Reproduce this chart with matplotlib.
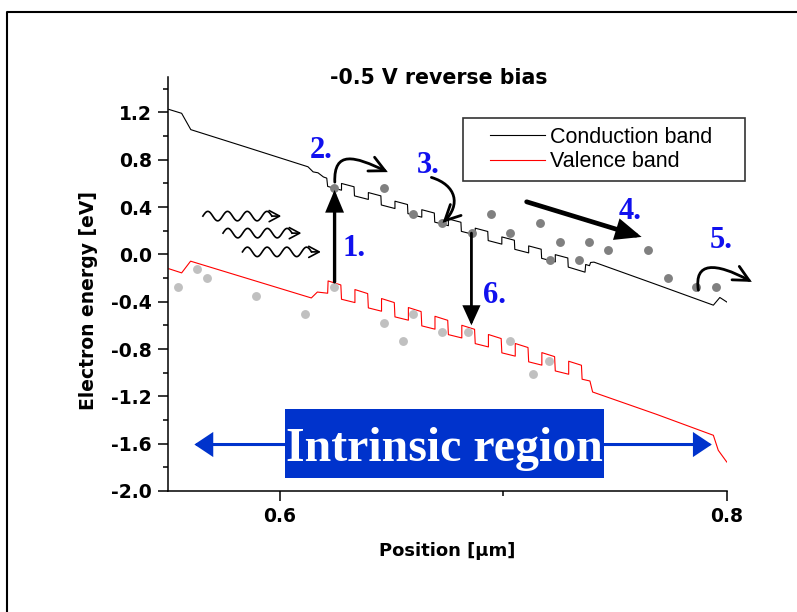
#%%
# band diagram of a MQW p-i-n diode at -0.5 V reverse bias
import numpy as np
import matplotlib
matplotlib.use("Agg")
import matplotlib.pyplot as plt
from matplotlib.patches import FancyArrowPatch, Rectangle
from matplotlib.path import Path
from matplotlib.lines import Line2D
from matplotlib.legend_handler import HandlerLine2D
from matplotlib.ticker import MultipleLocator, FixedLocator, FormatStrFormatter

plt.rcParams['axes.unicode_minus'] = False

#%%
# data
# conduction band (black)
cb_x = [0.5504, 0.5561, 0.5602, 0.5850, 0.6126, 0.6149, 0.6171, 0.6195, 0.6210, 0.6214, 0.6276,
        0.6276, 0.6332, 0.6334, 0.6396,
        0.6396, 0.6452, 0.6454, 0.6515,
        0.6515, 0.6571, 0.6573, 0.6635,
        0.6635, 0.6691, 0.6693, 0.6754,
        0.6754, 0.6810, 0.6812, 0.6874,
        0.6874, 0.6930, 0.6932, 0.6993,
        0.6993, 0.7049, 0.7051, 0.7113,
        0.7113, 0.7169, 0.7171, 0.7232,
        0.7232, 0.7288, 0.7290, 0.7365,
        0.7368, 0.7385, 0.7390, 0.7405, 0.7675, 0.7939, 0.7968, 0.7999]
cb_y = [1.226, 1.193, 1.055, 0.907, 0.741, 0.698, 0.690, 0.655, 0.645, 0.575, 0.543,
        0.600, 0.572, 0.495, 0.465,
        0.523, 0.495, 0.418, 0.388,
        0.450, 0.422, 0.345, 0.315,
        0.378, 0.350, 0.273, 0.243,
        0.300, 0.272, 0.195, 0.165,
        0.222, 0.194, 0.117, 0.087,
        0.148, 0.120, 0.043, 0.013,
        0.072, 0.044, -0.033, -0.063,
        -0.002, -0.030, -0.107, -0.150,
        -0.085, -0.095, -0.068, -0.065, -0.248, -0.429, -0.364, -0.402]

# valence band (red)
vb_x = [0.5504, 0.5561, 0.5601, 0.6141, 0.6168, 0.6214,
        0.6216, 0.6273, 0.6276, 0.6336,
        0.6336, 0.6393, 0.6396, 0.6455,
        0.6455, 0.6512, 0.6515, 0.6575,
        0.6575, 0.6632, 0.6635, 0.6694,
        0.6694, 0.6751, 0.6754, 0.6814,
        0.6814, 0.6871, 0.6874, 0.6933,
        0.6933, 0.6990, 0.6993, 0.7053,
        0.7053, 0.7110, 0.7113, 0.7172,
        0.7172, 0.7229, 0.7232, 0.7292,
        0.7292, 0.7349, 0.7352, 0.7387, 0.7399, 0.7685, 0.7939, 0.7961, 0.7999]
vb_y = [-0.121, -0.156, -0.057, -0.368, -0.318, -0.328,
        -0.224, -0.258, -0.379, -0.407,
        -0.297, -0.331, -0.452, -0.480,
        -0.373, -0.407, -0.528, -0.556,
        -0.449, -0.483, -0.604, -0.632,
        -0.523, -0.557, -0.678, -0.706,
        -0.599, -0.633, -0.754, -0.782,
        -0.677, -0.711, -0.832, -0.860,
        -0.753, -0.787, -0.908, -0.936,
        -0.830, -0.864, -0.985, -1.013,
        -0.903, -0.937, -1.055, -1.070, -1.163, -1.352, -1.529, -1.656, -1.755]

# electrons (dark dots) and holes (light dots)
e_x = [0.6241, 0.6464, 0.6594, 0.6726, 0.6858, 0.6944, 0.7031, 0.7165, 0.7208,
       0.7251, 0.7338, 0.7383, 0.7470, 0.7645, 0.7734, 0.7863, 0.7952]
e_y = [0.563, 0.563, 0.338, 0.262, 0.183, 0.338, 0.183, 0.262, -0.045,
       0.107, -0.045, 0.107, 0.034, 0.034, -0.197, -0.276, -0.276]
h_x = [0.5543, 0.5631, 0.5675, 0.5895, 0.6114, 0.6241, 0.6464, 0.6551, 0.6594,
       0.6726, 0.6842, 0.7031, 0.7131, 0.7206]
h_y = [-0.276, -0.121, -0.197, -0.352, -0.501, -0.276, -0.577, -0.729, -0.501,
       -0.653, -0.653, -0.729, -1.013, -0.900]

# step numbers
step_labels = ["1.", "2.", "3.", "4.", "5.", "6."]
step_x = [0.6331, 0.6183, 0.6662, 0.7566, 0.7973, 0.6962]
step_y = [0.053, 0.880, 0.755, 0.366, 0.120, -0.345]

y_ticks = [-2.0, -1.6, -1.2, -0.8, -0.4, 0.0, 0.4, 0.8, 1.2]
x_ticks = [0.6, 0.8]

#%%
fig = plt.figure(figsize=(7.97, 6.12), dpi=100)
ax = fig.add_axes([168 / 797, 121 / 612, 559 / 797, 414 / 612])

cb_line, = ax.plot(cb_x, cb_y, color='black', lw=0.8, zorder=2)
vb_line, = ax.plot(vb_x, vb_y, color='red', lw=0.8, zorder=2)
ax.plot(e_x, e_y, 'o', color='#808080', ms=6.4, mec='none', zorder=3)
ax.plot(h_x, h_y, 'o', color='#c0c0c0', ms=6.4, mec='none', zorder=3)

ax.set_xlim(0.55, 0.8)
ax.set_ylim(-2.0, 1.5)
ax.spines['top'].set_visible(False)
ax.spines['right'].set_visible(False)
for s in ['left', 'bottom']:
    ax.spines[s].set_linewidth(1.1)

ax.set_yticks(y_ticks)
ax.yaxis.set_minor_locator(MultipleLocator(0.2))
ax.yaxis.set_major_formatter(FormatStrFormatter('%.1f'))
ax.set_xticks(x_ticks)
ax.xaxis.set_minor_locator(FixedLocator([0.7]))
ax.xaxis.set_major_formatter(FormatStrFormatter('%.1f'))
ax.tick_params(which='major', direction='out', length=7, width=1.1, pad=4.5,
               labelsize=13.5)
ax.tick_params(which='minor', direction='out', length=3.5, width=1.1)
for lab in ax.get_xticklabels() + ax.get_yticklabels():
    lab.set_fontweight('bold')

ax.set_ylabel("Electron energy [eV]", fontsize=13.5, fontweight='bold')
ax.yaxis.set_label_coords(-0.125, 0.461)
ax.set_xlabel("Position [\u00b5m]", fontsize=13, fontweight='bold')
ax.xaxis.set_label_coords(0.5, -0.124)

ax.text(0.484, 0.983, "-0.5 V reverse bias", transform=ax.transAxes,
        ha='center', va='baseline', fontsize=14.8, fontweight='bold')

# legend
ax.legend([cb_line, vb_line], ["Conduction band", "Valence band"],
          loc='upper left', bbox_to_anchor=(462.6 / 797, 1 - 117.9 / 612, 282.2 / 797, 0.0),
          bbox_transform=fig.transFigure, mode='expand', borderaxespad=0,
          borderpad=0.42, labelspacing=0.16, handlelength=4.27, handletextpad=-0.62,
          numpoints=2, handler_map={Line2D: HandlerLine2D(marker_pad=0.86, numpoints=2)},
          prop={'family': 'Liberation Sans', 'size': 15.5},
          fancybox=False, framealpha=1, edgecolor='#333333')
ax.get_legend().get_frame().set_linewidth(1.2)

#%%
# annotations
def arrow(p0, p1, lw, hl, hw, style='-|>', color='black', path=None):
    a = FancyArrowPatch(p0, p1, path=path,
                        arrowstyle=f'{style},head_length={hl},head_width={hw}',
                        mutation_scale=1, lw=lw, color=color,
                        shrinkA=0, shrinkB=0, zorder=5, clip_on=False,
                        transform=ax.transData, joinstyle='miter')
    ax.add_patch(a)

# 1. absorption, 6. recombination, 4. drift
arrow((0.6245, -0.232), (0.6245, 0.545), 2.4, 12, 5.0)
arrow((0.6857, 0.180), (0.6857, -0.599), 2.0, 11, 5.0)
arrow((0.7104, 0.445), (0.7618, 0.148), 3.4, 13, 5.5)

# curved arrows 2., 3., 5.
C = [Path.MOVETO, Path.CURVE4, Path.CURVE4, Path.CURVE4]
for verts in ([(0.6246, 0.611), (0.6241, 0.882), (0.6335, 0.831), (0.6483, 0.696)],
              [(0.6678, 0.651), (0.6791, 0.586), (0.6809, 0.417), (0.6728, 0.267)],
              [(0.7872, -0.302), (0.7852, -0.063), (0.7946, -0.063), (0.8111, -0.232)]):
    arrow(None, None, 2.0, 11, 5.5, style='->', path=Path(verts, C))

# incoming photons
per, amp = 0.00882, 0.040
for x0, y0 in [(0.5656, 0.324), (0.5746, 0.180), (0.5833, 0.0215)]:
    xw = np.linspace(x0, x0 + 3.5 * per, 120)
    ax.plot(xw, y0 + amp * np.sin(2 * np.pi * (xw - x0) / per), color='black',
            lw=1.2, zorder=5)
    arrow((x0 + 3.5 * per, y0), (x0 + 0.0351, y0), 1.2, 7.5, 4, style='->')

# intrinsic region box and arrows
blue = '#0033cc'
ax.add_patch(Rectangle((0.6023, -1.891), 0.7450 - 0.6023, -1.309 + 1.891,
                       facecolor=blue, edgecolor='none', zorder=4))
ax.text(0.6736, -1.746, "Intrinsic region", ha='center', va='baseline', color='white',
        fontsize=34.5, fontweight='bold', family='Liberation Serif', zorder=6)
arrow((0.6023, -1.607), (0.5618, -1.607), 2.2, 10.5, 7, color=blue)
arrow((0.7450, -1.607), (0.7932, -1.607), 2.2, 10.5, 7, color=blue)

for t, x, y in zip(step_labels, step_x, step_y):
    ax.text(x, y, t, ha='center', va='center', color='#1010ee', fontsize=22,
            fontweight='bold', family='Liberation Serif', zorder=6, clip_on=False)

# outer frame (only left and top edge visible)
fig.add_artist(Line2D([7 / 797, 7 / 797, 1.0], [0.0, 1 - 11.5 / 612, 1 - 11.5 / 612],
                      transform=fig.transFigure, color='black', lw=1.5))

fig.savefig("out.png", dpi=100, facecolor='white')
